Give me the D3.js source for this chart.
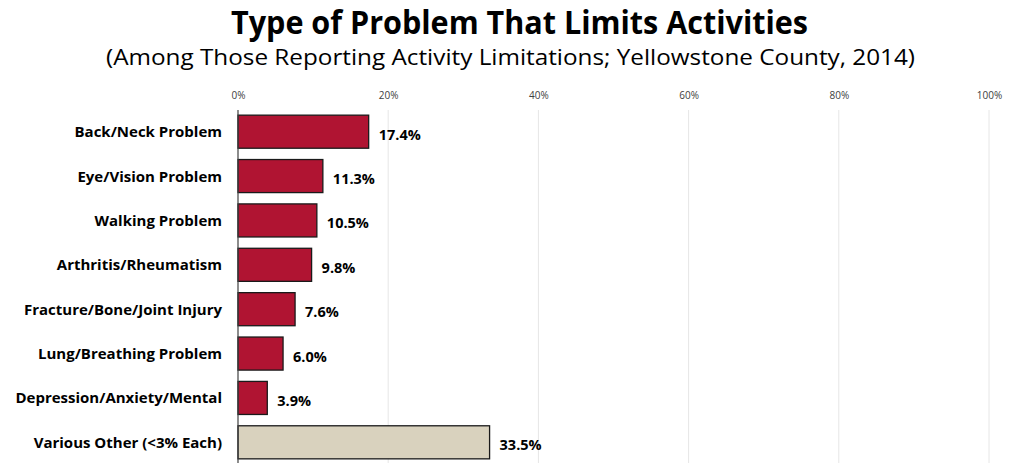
<!DOCTYPE html>
<html><head><meta charset="utf-8">
<script src="https://cdn.jsdelivr.net/npm/d3@7"></script>
<style>body{margin:0;background:#fff}svg{display:block}</style>
</head><body>
<script>
const categories = ["Back/Neck Problem","Eye/Vision Problem","Walking Problem","Arthritis/Rheumatism","Fracture/Bone/Joint Injury","Lung/Breathing Problem","Depression/Anxiety/Mental","Various Other (<3% Each)"];
const values = [17.4, 11.3, 10.5, 9.8, 7.6, 6.0, 3.9, 33.5];
const highlight = [false,false,false,false,false,false,false,true];
const tickValues = [0,20,40,60,80,100];
const title = "Type of Problem That Limits Activities";
const subtitle = "(Among Those Reporting Activity Limitations; Yellowstone County, 2014)";

const W=1016,H=463;
const font = "'Open Sans', 'Noto Sans', sans-serif";
const svg=d3.select("body").append("svg").attr("width",W).attr("height",H);
const x=d3.scaleLinear().domain([0,100]).range([238,989]);
const y=d3.scaleBand().domain(categories).range([109.5,464.5]).paddingInner(0.255).paddingOuter(0.1275);

svg.append("text").attr("x",519.5).attr("y",33.5).attr("text-anchor","middle")
  .attr("font-family",font).attr("font-weight","bold").attr("font-size",33)
  .attr("textLength",577).attr("lengthAdjust","spacingAndGlyphs").attr("fill","#000").text(title);
svg.append("text").attr("x",510.5).attr("y",65).attr("text-anchor","middle")
  .attr("font-family",font).attr("font-size",22)
  .attr("textLength",809).attr("lengthAdjust","spacingAndGlyphs").attr("fill","#000").text(subtitle);

// grid
svg.append("g").selectAll("line").data(tickValues.filter(d=>d>0)).join("line")
  .attr("x1",d=>x(d)).attr("x2",d=>x(d)).attr("y1",110).attr("y2",H)
  .attr("stroke","#e6e6e6").attr("stroke-width",1);

const ax=d3.axisTop(x).tickValues(tickValues).tickFormat(d=>d+"%").tickSize(0).tickPadding(0);
const axg=svg.append("g").attr("transform","translate(0,98.5)").call(ax);
axg.select(".domain").remove();
axg.selectAll("text").attr("font-family",font).attr("font-size",10).attr("fill","#404040");

svg.append("g").selectAll("rect").data(values).join("rect")
  .attr("x",x(0)).attr("y",(d,i)=>y(categories[i]))
  .attr("width",d=>x(d)-x(0)).attr("height",y.bandwidth())
  .attr("fill",(d,i)=>highlight[i]?"#D9D2BE":"#B01432")
  .attr("stroke","#1a1a1a").attr("stroke-width",1.3);

svg.append("line").attr("x1",x(0)).attr("x2",x(0)).attr("y1",110).attr("y2",H)
  .attr("stroke","#404040").attr("stroke-width",1.2);

svg.append("g").selectAll("text").data(categories).join("text")
  .attr("x",222).attr("y",d=>y(d)+y.bandwidth()/2+5.5).attr("text-anchor","end")
  .attr("font-family",font).attr("font-weight","bold").attr("font-size",15).attr("fill","#000").text(d=>d);

svg.append("g").selectAll("text").data(values).join("text")
  .attr("x",d=>x(d)+10).attr("y",(d,i)=>y(categories[i])+y.bandwidth()/2+8)
  .attr("font-family",font).attr("font-weight","bold").attr("font-size",14.5).attr("fill","#000").text(d=>d.toFixed(1)+"%");
</script>
</body></html>
